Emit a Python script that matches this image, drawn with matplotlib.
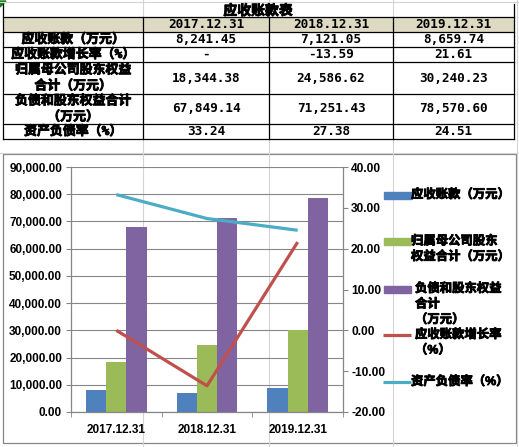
import matplotlib
matplotlib.use("Agg")
import matplotlib.pyplot as plt
import matplotlib.patheffects as pe
from matplotlib.patches import Rectangle, Polygon
from matplotlib.ticker import FuncFormatter

# datos del cuadro (万元 y %)
fechas = ['2017.12.31', '2018.12.31', '2019.12.31']
cuentas_cobrar = [8241.45, 7121.05, 8659.74]
crecimiento = [None, -13.59, 21.61]
patrimonio = [18344.38, 24586.62, 30240.23]
pasivo_patrimonio = [67849.14, 71251.43, 78570.60]
ratio_deuda = [33.24, 27.38, 24.51]

titulo_tabla = '应收账款表'
filas = ['应收账款（万元）', '应收账款增长率（%）', '归属母公司股东权益\n合计（万元）',
         '负债和股东权益合计\n（万元）', '资产负债率（%）']
etiquetas_leyenda = ['应收账款（万元）', '归属母公司股东\n权益合计（万元）',
                     '负债和股东权益\n合计\n（万元）', '应收账款增长率\n（%）', '资产负债率（%）']

azul = '#4F81BD'
rojo = '#C0504D'
verde = '#9BBB59'
morado = '#8064A2'
cian = '#4BACC6'
gris = '#868686'

plt.rcParams['font.family'] = ['Liberation Sans', 'Noto Sans CJK SC']
plt.rcParams['font.weight'] = 'bold'

# el CJK no tiene negrita instalada, se engorda con un trazo
negrita = [pe.withStroke(linewidth=0.6, foreground='black')]

W, H = 519, 447
fig = plt.figure(figsize=(W / 100, H / 100), dpi=100)

# fondo en pixeles: hoja de excel + tabla
fondo = fig.add_axes([0, 0, 1, 1], zorder=0)
fondo.set_xlim(0, W)
fondo.set_ylim(H, 0)
fondo.axis('off')

for x in [143, 269, 393, 517]:
    fondo.plot([x, x], [0, H], color='#D4D4D4', lw=0.8)
for y in [2, 153]:
    fondo.plot([0, W], [y, y], color='#D4D4D4', lw=0.8)
fondo.add_patch(Polygon([(0, 1), (6, 1), (0, 7)], closed=True, color='#1F7A1F'))

cols = [3, 143, 269, 393, 514]
rows_y = [17, 32, 47, 62, 94, 124, 139]
fam_tabla = ['DejaVu Sans Mono', 'Noto Sans CJK SC']

fondo.add_patch(Rectangle((3, 4), 511, 135, facecolor='white', edgecolor='none', zorder=1))
fondo.add_patch(Rectangle((3, 17), 511, 15, facecolor='#DDD9C3', edgecolor='none', zorder=1))
for y in rows_y:
    fondo.plot([3, 514], [y, y], color='black', lw=0.9, zorder=2)
fondo.plot([3, 3], [4, 139], color='black', lw=0.9, zorder=2)
fondo.plot([514, 514], [4, 139], color='black', lw=0.9, zorder=2)
for x in cols[1:-1]:
    fondo.plot([x, x], [17, 139], color='black', lw=0.9, zorder=2)

fondo.text(258, 11, titulo_tabla, ha='center', va='center', fontsize=10,
           family=fam_tabla, zorder=3, path_effects=negrita)

centros = [(cols[i] + cols[i + 1]) / 2 for i in range(4)]
for j, f in enumerate(fechas):
    fondo.text(centros[j + 1], 24.5, f, ha='center', va='center', fontsize=9.2,
               family=fam_tabla, zorder=3)

valores = [
    [f'{v:,.2f}' for v in cuentas_cobrar],
    ['-' if v is None else f'{v:.2f}' for v in crecimiento],
    [f'{v:,.2f}' for v in patrimonio],
    [f'{v:,.2f}' for v in pasivo_patrimonio],
    [f'{v:.2f}' for v in ratio_deuda],
]
for i, nombre in enumerate(filas):
    yc = (rows_y[i + 1] + rows_y[i + 2]) / 2
    lineas = nombre.split('\n')
    for k, linea in enumerate(lineas):
        yy = yc + (k - (len(lineas) - 1) / 2) * 16
        fondo.text(centros[0], yy, linea, ha='center', va='center', fontsize=9.3,
                   family=fam_tabla, zorder=3, path_effects=negrita)
    for j, v in enumerate(valores[i]):
        fondo.text(centros[j + 1], yc, v, ha='center', va='center', fontsize=9.2,
                   family=fam_tabla, zorder=3)

# marco del grafico
fondo.add_patch(Rectangle((3, 154), 513, 289, facecolor='white', edgecolor=gris, lw=0.9, zorder=1))

# grafico
x0, x1, y0, y1 = 71, 343, 167, 412
ax = fig.add_axes([x0 / W, 1 - y1 / H, (x1 - x0) / W, (y1 - y0) / H], zorder=1)
ax.patch.set_alpha(0)
ancho = 1 / 4.5
pos = range(len(fechas))
ax.bar([p - ancho for p in pos], cuentas_cobrar, ancho, color=azul, zorder=2)
ax.bar([p for p in pos], patrimonio, ancho, color=verde, zorder=2)
ax.bar([p + ancho for p in pos], pasivo_patrimonio, ancho, color=morado, zorder=2)
ax.set_xlim(-0.5, len(fechas) - 0.5)
ax.set_ylim(0, 90000)
ax.set_yticks(range(0, 90001, 10000))
ax.yaxis.set_major_formatter(FuncFormatter(lambda v, p: f'{v:,.2f}'))
ax.grid(axis='y', color=gris, lw=0.8, zorder=0)
ax.set_axisbelow(True)
ax.set_xticks(list(pos))
ax.set_xticklabels(fechas)
ax.set_xticks([p - 0.5 for p in range(len(fechas) + 1)], minor=True)
ax.tick_params(axis='x', which='major', length=0, pad=8.5, labelsize=8.5)
ax.tick_params(axis='x', which='minor', length=3.6, color=gris, direction='out')
ax.tick_params(axis='y', length=3.6, color=gris, direction='out', pad=2.8, labelsize=8.5)
for lado in ['top', 'right']:
    ax.spines[lado].set_visible(False)
for lado in ['left', 'bottom']:
    ax.spines[lado].set_color(gris)
    ax.spines[lado].set_linewidth(0.9)

ax2 = ax.twinx()
ax2.set_zorder(2)
crec_linea = [0 if v is None else v for v in crecimiento]  # excel pinta "-" como 0
ax2.plot(list(pos), crec_linea, color=rojo, lw=2.3, solid_capstyle='butt')
ax2.plot(list(pos), ratio_deuda, color=cian, lw=2.3, solid_capstyle='butt')
ax2.set_ylim(-20, 40)
ax2.set_yticks(range(-20, 41, 10))
ax2.yaxis.set_major_formatter(FuncFormatter(lambda v, p: f'{v:.2f}'))
ax2.tick_params(axis='y', length=3.6, color=gris, direction='out', pad=2.2, labelsize=8.6)
for lado in ['top', 'left', 'bottom']:
    ax2.spines[lado].set_visible(False)
ax2.spines['right'].set_color(gris)
ax2.spines['right'].set_linewidth(0.9)

# leyenda a mano, como la de excel
tipos = ['bar', 'bar', 'bar', 'line', 'line']
colores = [azul, verde, morado, rojo, cian]
y_ley = [195, 241.5, 289, 335, 382]
x_txt = [411, 411, 415, 415, 411]
for t, c, yy, xt, etq in zip(tipos, colores, y_ley, x_txt, etiquetas_leyenda):
    if t == 'bar':
        fondo.add_patch(Rectangle((384, yy - 3.5), 27, 7, color=c, zorder=3))
    else:
        fondo.plot([383, 411], [yy, yy], color=c, lw=2.3, zorder=3, solid_capstyle='butt')
    for k, linea in enumerate(etq.split('\n')):
        fondo.text(xt, yy + k * 15.5, linea, ha='left', va='center', fontsize=8.9,
                   zorder=3, path_effects=negrita)

fig.savefig('out.png', dpi=100)
